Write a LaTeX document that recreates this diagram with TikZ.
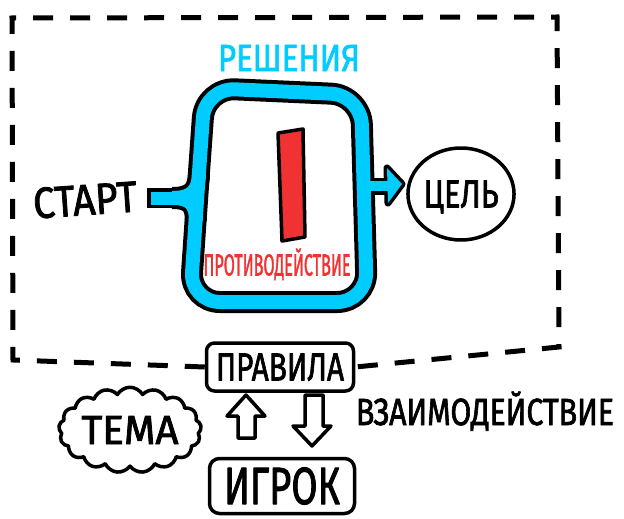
\documentclass[tikz,border=0pt]{standalone}
\usepackage{fontspec}
\setmainfont{Fira Sans}[FakeBold=2]
\usetikzlibrary{shapes.geometric,shapes.symbols}
\definecolor{sky}{RGB}{0,204,255}
\definecolor{redc}{RGB}{240,50,50}
\newcommand\fitt[3]{\resizebox{#1}{#2}{\raisebox{0pt}[\fontcharht\font`H][0pt]{#3}}}
\tikzset{
  ink/.style={line width=3.5pt, line join=round, line cap=round},
  lbl/.style={inner sep=0pt, anchor=center},
  boxed/.style={ink, draw, rounded corners=8pt, fill=white, inner sep=0pt},
  frame/.style={line width=5pt, dash pattern=on 20pt off 17pt},
  blockarrow/.style={ink, draw, fill=white}
}
\newcommand\loopline{(197,200) -- (205,88) -- (361,95) -- (367,302) -- (190,302) -- cycle}
\begin{document}
\begin{tikzpicture}[x=1pt,y=-1pt]
\useasboundingbox (0,0) rectangle (624,519);

% rules box and frame
\node[boxed, minimum width=147pt, minimum height=48pt] (rules) at (280,367) {\fitt{128pt}{27pt}{ПРАВИЛА}};
\coordinate (bl) at (13,360);
\coordinate (tl) at (12,18);
\coordinate (tr) at (557,17);
\coordinate (br) at (559,347);
\draw[frame] (rules.west) -- (bl) -- (tl) -- (tr) -- (br) -- (rules.east);

% blue loop: black layer
\draw[line width=22pt, rounded corners=30pt] \loopline;
\draw[line width=20pt] (147,198) -- (176,198);
\draw[line width=22pt] (172,198) .. controls (190,198) and (198,192) .. (199,175);
\draw[line width=22pt] (172,198) .. controls (190,198) and (196,204) .. (196,221);
\draw[line width=17pt] (364,186) -- (390,186);
\draw[line width=7pt, line join=round, fill=black] (387,168) -- (402,184) -- (388,203) -- cycle;
% blue loop: cyan layer
\draw[sky, line width=14pt, rounded corners=30pt] \loopline;
\draw[sky, line width=13pt] (151,198) -- (176,198);
\draw[sky, line width=14pt] (172,198) .. controls (190,198) and (198,192) .. (199,175);
\draw[sky, line width=14pt] (172,198) .. controls (190,198) and (196,204) .. (196,221);
\draw[sky, line width=10pt] (364,186) -- (390,186);
\fill[sky] (387,168) -- (402,184) -- (388,203) -- cycle;

% obstacle
\draw[ink, fill=redc] (278,133) -- (303,129) -- (305,237) -- (282,241) -- cycle;

% labels
\node[lbl, text=sky] (solutions) at (289,58) {\fitt{142pt}{26pt}{РЕШЕНИЯ}};
\node[lbl, text=redc] (opp) at (277,265) {\fitt{147pt}{21pt}{ПРОТИВОДЕЙСТВИЕ}};
\node[lbl, rotate=4] (start) at (85,200) {\fitt{104pt}{30pt}{СТАРТ}};
\node[ink, draw, ellipse, minimum width=102pt, minimum height=92pt, inner sep=0pt] (goal) at (461,194) {\fitt{75pt}{27pt}{ЦЕЛЬ}};

% bottom part
\node[cloud, draw, ink, cloud puffs=17, cloud puff arc=120, aspect=1.9, minimum width=142pt, minimum height=74pt, inner sep=0pt] (theme) at (130,430) {\fitt{97pt}{28pt}{ТЕМА}};
\node[boxed, rounded corners=10pt, minimum width=145pt, minimum height=55pt] (player) at (282,486) {\fitt{116pt}{36pt}{ИГРОК}};
\node[lbl] (interact) at (485,412) {\fitt{258pt}{26pt}{ВЗАИМОДЕЙСТВИЕ}};

\draw[blockarrow] (246,395) -- (265,416) -- (255,416) -- (255,438) -- (238,438) -- (238,416) -- (227,416) -- cycle;
\draw[blockarrow] (305,395) -- (323,395) -- (323,426) -- (331,426) -- (312,446) -- (293,426) -- (305,426) -- cycle;
\end{tikzpicture}
\end{document}
